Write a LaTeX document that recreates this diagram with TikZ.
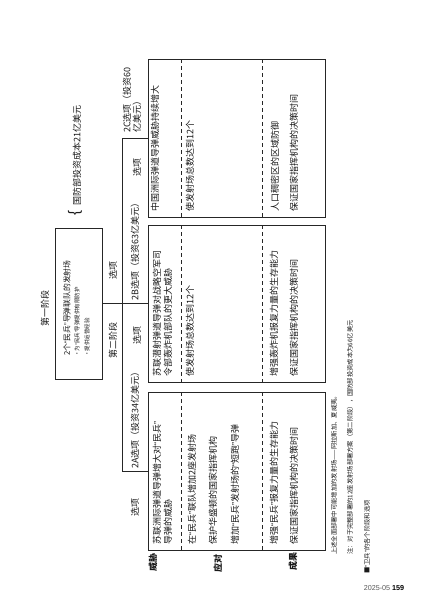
\documentclass[tikz,border=0pt]{standalone}
\usepackage{fontspec}
\setmainfont{Noto Sans CJK SC}
\newfontfamily\latinsans{Liberation Sans}
\newcommand{\oqt}{{\latinsans“}}
\newcommand{\cqt}{{\latinsans”}}
\begin{document}
\begin{tikzpicture}[x=1pt,y=-1pt,
  ink/.style={draw=black!85, line width=0.7pt},
  dashsep/.style={draw=black!85, line width=0.7pt, dash pattern=on 4pt off 3pt},
  vt/.style={rotate=90, inner sep=0pt, text=black!90, font=\fontsize{9}{10}\selectfont},
  vtw/.style={vt, anchor=west},
  rowlab/.style={vt, font=\fontsize{9}{10}\selectfont\bfseries},
  small/.style={vtw, font=\fontsize{5.5}{6}\selectfont},
  note/.style={vtw, font=\fontsize{6.3}{7}\selectfont},
  tbl/.style={ink, minimum width=177pt, minimum height=158pt, inner sep=0pt, outer sep=0pt},
]
\useasboundingbox[fill=white] (0,0) rectangle (427,603);

% stage one box
\node[vt] (title1) at (45,308) {第一阶段};
\node[ink, minimum width=47pt, minimum height=151pt, inner sep=0pt, outer sep=0pt] (stageone) at (78.5,303.5) {};
\node[vtw, font=\fontsize{7.8}{9}\selectfont] (b1) at (67,356) {2个\oqt 民兵\cqt 导弹联队的发射场};
\node[small] (b2) at (77,357) {·为\oqt 民兵\cqt 导弹提供有限防护};
\node[small] (b3) at (87,357) {·提供运营经验};

% brace and cost
\node[vt, font=\latinsans\fontsize{15}{15}\selectfont] (brace) at (75,213) {\{};
\node[vtw] (cost) at (77,206) {国防部投资成本21亿美元};

% tables
\node[tbl] (t2c) at (236.5,138) {};
\node[tbl, minimum height=157pt] (t2b) at (236.5,303.5) {};
\node[tbl] (t2a) at (236.5,471) {};

\coordinate (trunk) at (122,0);
\coordinate (d1) at (181,0);
\coordinate (d2) at (262,0);
\draw[ink] (t2c.west -| trunk) -- (t2a.west -| trunk);
\draw[ink] (t2c.west -| trunk) -- (t2c.west);
\draw[ink] (t2a.west -| trunk) -- (t2a.west);
\draw[ink] (stageone.east) -- (t2b.west);

\foreach \t in {t2c,t2b,t2a}{
  \draw[dashsep] (\t.north -| d1) -- (\t.south -| d1);
  \draw[dashsep] (\t.north -| d2) -- (\t.south -| d2);
}

% tree labels
\node[vt] (opt0) at (113,270) {选项};
\node[vt] (stage2) at (113,340) {第二阶段};
\node[vtw] (h2c1) at (127,133) {2C选项（投资60};
\node[vtw] (h2c2) at (137,133) {亿美元）};
\node[vt] (opt2c) at (137,167) {选项};
\node[vtw] (h2b) at (135,301) {2B选项（投资63亿美元）};
\node[vt] (opt2b) at (137,335) {选项};
\node[vtw] (h2a) at (135,469) {2A选项（投资34亿美元）};
\node[vt] (opt2a) at (135,507) {选项};

% 2C content
\node[vtw] (c1) at (155,212) {中国洲际弹道导弹威胁持续增大};
\node[vtw] (c2) at (190,212) {使发射场总数达到12个};
\node[vtw] (c3) at (275,212) {人口稠密区的区域防御};
\node[vtw] (c4) at (294,212) {保证国家指挥机构的决策时间};

% 2B content
\node[vtw] (bb1) at (157,377) {苏联潜射弹道导弹对战略空军司};
\node[vtw] (bb2) at (168,377) {令部轰炸机部队的更大威胁};
\node[vtw] (bb3) at (190,377) {使发射场总数达到12个};
\node[vtw] (bb4) at (274,377) {增强轰炸机报复力量的生存能力};
\node[vtw] (bb5) at (294,377) {保证国家指挥机构的决策时间};

% 2A content
\node[vtw] (a1) at (157,545) {苏联洲际弹道导弹增大对\oqt 民兵\cqt};
\node[vtw] (a2) at (168,545) {导弹的威胁};
\node[vtw] (a3) at (192,545) {在\oqt 民兵\cqt 联队增加2座发射场};
\node[vtw] (a4) at (213,545) {保护华盛顿的国家指挥机构};
\node[vtw] (a5) at (235,545) {增加\oqt 民兵\cqt 发射场的\oqt 短跑\cqt 导弹};
\node[vtw] (a6) at (274,545) {增强\oqt 民兵\cqt 报复力量的生存能力};
\node[vtw] (a7) at (294,545) {保证国家指挥机构的决策时间};

% row labels
\node[rowlab] (r1) at (153,562) {威胁};
\node[rowlab] (r2) at (218,563) {应对};
\node[rowlab] (r3) at (293,561) {成果};

% notes
\node[note] (n1) at (334,555) {上述全面部署中可能增加的发射场——阿拉斯加、夏威夷。};
\node[note] (n2) at (350,555) {注：对于完整部署的12座发射场部署方案（第二阶段），国防部投资成本为66亿美元};
\node[note] (cap) at (367,574) {■\oqt 卫兵\cqt 的各个阶段和选项};

% page number
\node[inner sep=0pt, font=\latinsans\fontsize{7.2}{8}\selectfont] (pg) at (384,588) {\textcolor{black!65}{2025-05} \textbf{159}};
\end{tikzpicture}
\end{document}
